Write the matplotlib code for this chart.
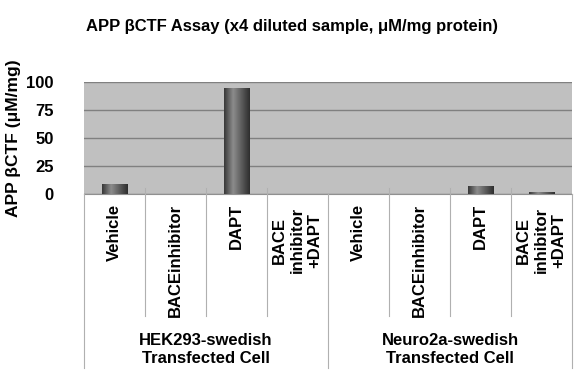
import numpy as np
import matplotlib
matplotlib.use("Agg")
import matplotlib.pyplot as plt
import matplotlib.transforms as mtransforms

# values (uM/mg)
groups = ["HEK293-swedish\nTransfected Cell", "Neuro2a-swedish\nTransfected Cell"]
treatments = ["Vehicle", "BACEinhibitor", "DAPT", "BACE\ninhibitor\n+DAPT"]
hek_values = [9, 0, 95, 0]
neuro_values = [0, 0, 7, 1.5]
yticks = [0, 25, 50, 75, 100]

values = hek_values + neuro_values
labels = treatments + treatments
x = np.arange(len(values))

plt.rcParams["font.family"] = ["Liberation Sans", "DejaVu Sans"]
plt.rcParams["font.weight"] = "bold"

fig = plt.figure(figsize=(5.77, 3.82), dpi=100)
ax = fig.add_axes([84 / 577, 1 - 194 / 382, 488 / 577, 112 / 382])
ax.set_facecolor("#c0c0c0")

ax.set_xlim(-0.5, len(values) - 0.5)
ax.set_ylim(0, 100)
ax.set_yticks(yticks)
ax.set_yticklabels([str(t) for t in yticks], fontsize=12, fontweight="bold")
ax.tick_params(axis="y", length=0, pad=22)
ax.set_xticks([])
ax.grid(axis="y", color="#808080", linewidth=1)
ax.set_axisbelow(True)
for side in ["left", "top", "right"]:
    ax.spines[side].set_visible(False)
ax.spines["bottom"].set_color("#909090")

bars = ax.bar(x, values, width=0.41, color="#555555", edgecolor="#333333", linewidth=0.6, zorder=3)

# cylinder-like shading on each bar
grad = np.interp(np.linspace(0, 1, 64), [0, 0.35, 1], [0.22, 0.55, 0.18])
grad = np.tile(grad, (2, 1))
for b in bars:
    h = b.get_height()
    if h <= 0:
        continue
    x0 = b.get_x()
    im = ax.imshow(grad, cmap="gray", vmin=0, vmax=1, aspect="auto",
                   extent=(x0, x0 + b.get_width(), 0, h), zorder=3.5, interpolation="bilinear")
    im.set_clip_path(b)
ax.set_xlim(-0.5, len(values) - 0.5)
ax.set_ylim(0, 100)

trans = mtransforms.blended_transform_factory(ax.transData, ax.transAxes)
# separators below the axis
px = 1 / 112
for i in range(len(values) + 1):
    xs = i - 0.5
    if i % 4 == 0:
        y_low = -174 * px
        y_high = 0
    else:
        y_low = -122 * px
        y_high = 6 * px
    ax.plot([xs, xs], [y_low, y_high], transform=trans, color="#b0b0b0",
            linewidth=0.8, clip_on=False, zorder=4)

for i, lab in enumerate(labels):
    top = -13 * px if "\n" in lab else -10 * px
    ax.text(i, top, lab, transform=trans, rotation=90, ha="center", va="top",
            multialignment="center", fontsize=12, fontweight="bold", linespacing=1.22)

for g, name in enumerate(groups):
    ax.text(g * 4 + 1.5, -139 * px, name, transform=trans, ha="center", va="top",
            fontsize=12, fontweight="bold", linespacing=1.22)

fig.text(14 / 577, 1 - 138 / 382, "APP \u03b2CTF (\u03bcM/mg)", rotation=90, ha="center",
         va="center", fontsize=12.5, fontweight="bold")
fig.text(292 / 577, 1 - 27 / 382, "APP \u03b2CTF Assay (x4 diluted sample, \u03bcM/mg protein)",
         ha="center", va="center", fontsize=12, fontweight="bold")

fig.savefig("out.png", dpi=100, facecolor="white")
